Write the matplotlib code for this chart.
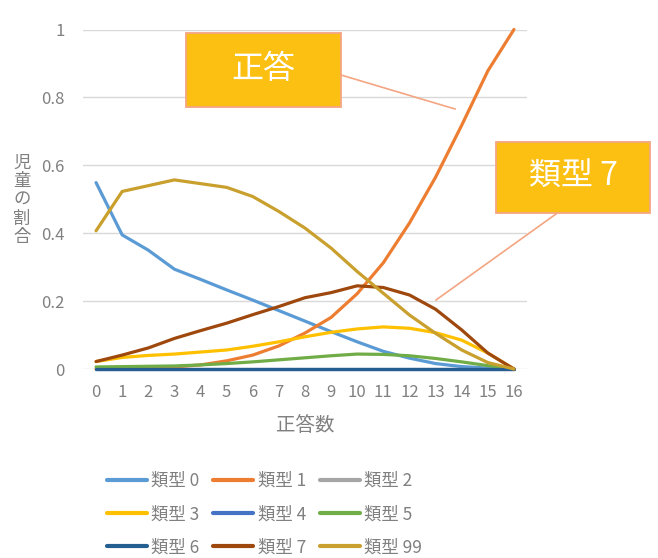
import matplotlib.pyplot as plt
from matplotlib.patches import Rectangle
from matplotlib.lines import Line2D
import numpy as np

plt.rcParams['font.family'] = ['Noto Sans CJK JP', 'DejaVu Sans']

# 正答数ごとの児童の割合（類型別）
正答数 = np.arange(0, 17)
類型0 = [0.549, 0.395, 0.35, 0.294, 0.264, 0.233, 0.203, 0.172, 0.141, 0.11, 0.08, 0.052, 0.032, 0.016, 0.007, 0.003, 0.0]
類型1 = [0.0, 0.001, 0.003, 0.006, 0.012, 0.024, 0.041, 0.068, 0.106, 0.152, 0.222, 0.313, 0.43, 0.565, 0.718, 0.878, 1.0]
類型2 = [0.0] * 17
類型3 = [0.022, 0.034, 0.04, 0.044, 0.05, 0.056, 0.067, 0.08, 0.095, 0.108, 0.118, 0.124, 0.12, 0.107, 0.085, 0.047, 0.0]
類型4 = [0.0] * 17
類型5 = [0.006, 0.007, 0.008, 0.009, 0.012, 0.016, 0.021, 0.027, 0.033, 0.039, 0.044, 0.043, 0.039, 0.031, 0.021, 0.01, 0.0]
類型6 = [0.0] * 17
類型7 = [0.022, 0.041, 0.062, 0.09, 0.113, 0.135, 0.16, 0.184, 0.21, 0.225, 0.245, 0.24, 0.218, 0.176, 0.115, 0.047, 0.0]
類型99 = [0.407, 0.523, 0.54, 0.557, 0.546, 0.535, 0.508, 0.464, 0.415, 0.356, 0.287, 0.223, 0.159, 0.105, 0.056, 0.019, 0.0]

系列 = [
    ('類型 0', 類型0, '#5B9BD5'),
    ('類型 1', 類型1, '#ED7D31'),
    ('類型 2', 類型2, '#A5A5A5'),
    ('類型 3', 類型3, '#FFC000'),
    ('類型 4', 類型4, '#4472C4'),
    ('類型 5', 類型5, '#70AD47'),
    ('類型 6', 類型6, '#255E91'),
    ('類型 7', 類型7, '#9E480E'),
    ('類型 99', 類型99, '#C9A02E'),
]

灰色 = '#808080'
W, H = 658, 558

fig = plt.figure(figsize=(W / 100, H / 100), dpi=100)
ax = fig.add_axes([83 / W, 1 - 369 / H, 444 / W, 339.5 / H])

lineas = []
for nombre, valores, color in 系列:
    l, = ax.plot(正答数, valores, color=color, lw=2.3, label=nombre,
                 solid_joinstyle='round', solid_capstyle='round', clip_on=False)
    lineas.append(l)

ax.set_xlim(-0.5, 16.5)
ax.set_ylim(0, 1)
ax.set_xticks(正答数)
ax.set_yticks([0, 0.2, 0.4, 0.6, 0.8, 1.0])
ax.set_yticklabels(['0', '0.2', '0.4', '0.6', '0.8', '1'])
ax.tick_params(length=0, labelsize=12, labelcolor=灰色)
ax.tick_params(axis='y', pad=13)
ax.tick_params(axis='x', pad=11)
ax.grid(axis='y', color='#D9D9D9', lw=1)
ax.set_axisbelow(True)
for s in ax.spines.values():
    s.set_visible(False)


def px(x, y):
    # píxeles (desde arriba a la izquierda) a coordenadas de figura
    return x / W, 1 - y / H


fig.text(*px(305, 425.5), '正答数', color=灰色, fontsize=14, ha='center', va='center')
fig.text(*px(22, 200), '\n'.join('児童の割合'), color=灰色, fontsize=12.5,
         ha='center', va='center', linespacing=1.05)

# 吹き出し（ボックス＋引き出し線）
def globo(texto, x0, y0, x1, y1, desde, hasta):
    fig.add_artist(Line2D([desde[0] / W, hasta[0] / W], [1 - desde[1] / H, 1 - hasta[1] / H],
                          color='#F4A582', lw=1.2, transform=fig.transFigure))
    fig.add_artist(Rectangle(px(x0, y1), (x1 - x0) / W, (y1 - y0) / H,
                             fc='#FBC012', ec='#F4A582', lw=1.3, transform=fig.transFigure))
    fig.text(*px((x0 + x1) / 2, (y0 + y1) / 2 - 1), texto, fontsize=23, color='white',
             ha='center', va='center')


globo('正答', 186, 33, 341, 107, (341, 75), (455, 109))
globo('類型 7', 496, 142, 650, 213, (556, 214), (436, 300))

# 凡例は行方向に並べる
orden = [0, 3, 6, 1, 4, 7, 2, 5, 8]
fig.legend([lineas[i] for i in orden], [lineas[i].get_label() for i in orden],
           ncol=3, loc='upper left', bbox_to_anchor=px(107, 472),
           frameon=False, fontsize=12.5, labelcolor=灰色, handlelength=2.3,
           handletextpad=0.25, columnspacing=0.8, labelspacing=0.88,
           borderaxespad=0, borderpad=0)
for l in fig.legends[0].get_lines():
    l.set_linewidth(3.0)

fig.savefig('out.png', dpi=100)
